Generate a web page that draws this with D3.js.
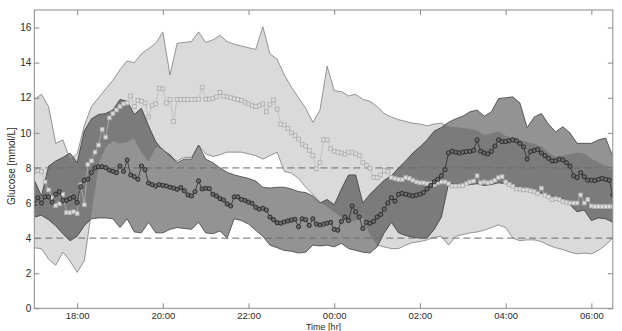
<!DOCTYPE html>
<html>
<head>
<meta charset="utf-8">
<script src="https://cdn.jsdelivr.net/npm/d3@7"></script>
<style>
  body { margin: 0; background: #fff; }
  svg { display: block; font-family: "Liberation Sans", Arial, sans-serif; }
</style>
</head>
<body>
<svg id="chart" width="622" height="331"></svg>
<script>
// Overnight glucose: two groups, each an envelope band plus a median trace.
// Bands sampled every 10 min, medians every 5 min, starting 17:00.

const lightUpper = [11.9,12.2,11.5,9.4,9.6,8.5,8.8,10.4,11.5,12.0,
  12.5,13.0,13.6,14.1,14.0,14.5,14.8,15.1,15.75,13.3,
  15.1,15.15,15.2,15.75,15.15,15.3,15.55,15.2,15.05,14.95,
  14.85,14.75,16.05,14.5,14.2,13.3,12.6,12.0,11.4,10.6,
  11.3,13.8,12.4,12.35,12.1,12.2,11.9,11.8,11.5,11.1,
  10.9,10.75,10.65,10.55,10.5,10.4,10.5,10.55,10.35,10.3,
  10.25,10.2,10.1,9.85,9.95,10.05,9.8,9.7,9.55,9.45,
  9.35,9.2,8.85,8.6,8.7,8.75,8.85,8.8,8.5,8.3,
  8.1,8.0];
const lightLower = [3.45,3.4,2.8,2.45,3.2,2.7,2.05,2.7,5.5,8.3,
  9.2,9.55,9.4,9.5,9.7,8.9,8.4,9.2,9.1,8.6,
  8.4,8.6,8.6,9.3,8.8,8.65,8.75,8.9,8.9,8.9,
  8.8,8.7,8.5,8.7,8.9,7.8,7.7,7.4,6.9,6.5,
  6.05,5.8,5.5,5.2,5.0,5.0,5.2,4.2,3.6,3.5,
  3.4,3.4,3.6,3.75,3.8,3.9,4.05,4.1,3.6,4.1,
  4.2,4.3,4.35,4.45,4.6,4.75,4.6,4.0,3.85,3.9,
  3.9,3.8,3.6,3.45,3.35,3.2,3.1,3.15,3.1,3.3,
  3.6,4.0];
const darkUpper = [7.3,6.4,8.1,8.4,8.6,8.85,8.3,10.1,10.8,11.05,
  11.1,11.3,11.9,11.8,11.05,11.4,10.4,9.5,9.0,8.75,
  8.3,8.5,8.5,9.3,8.5,8.3,8.0,7.75,7.6,7.5,
  7.4,7.25,6.9,6.85,6.9,6.9,6.8,6.65,6.6,6.4,
  6.0,6.2,5.9,6.8,7.6,7.6,6.0,6.5,6.9,7.3,
  7.55,8.0,8.4,8.85,9.2,9.6,10.1,10.3,10.6,10.8,
  10.95,11.2,11.3,10.95,11.2,11.95,12.0,12.05,11.7,10.3,
  10.9,11.1,10.5,10.05,10.35,10.0,9.4,9.4,9.4,9.6,
  9.7,8.65];
const darkLower = [5.2,5.3,5.05,4.7,4.25,3.85,4.1,4.7,5.1,5.15,
  5.15,5.1,4.6,5.1,4.35,4.3,4.9,4.3,4.3,4.5,
  4.6,4.55,4.5,4.9,4.3,4.25,4.4,4.0,5.1,5.0,
  4.8,4.45,4.1,3.6,3.45,3.3,3.25,3.15,3.2,3.6,
  3.55,3.6,3.5,3.7,3.4,3.3,3.2,3.15,3.5,4.3,
  4.9,4.3,4.15,4.05,4.0,4.0,4.5,5.2,7.1,7.1,
  7.05,7.05,7.1,7.0,7.05,7.15,7.1,7.0,6.9,6.8,
  6.7,6.55,6.45,6.35,6.25,5.9,5.5,5.6,5.0,5.15,
  5.1,4.9];

const lightMedian = [7.8,7.85,7.8,7.2,6.75,6.3,5.85,5.95,6.5,5.45,
  5.45,5.5,5.4,7.03,5.9,8.2,8.4,8.9,9.3,10.2,
  9.75,10.85,11.1,11.3,11.5,11.65,11.7,12.1,11.5,11.85,
  11.8,11.7,10.9,11.55,11.65,12.55,12.5,11.7,11.9,10.65,
  11.9,11.9,11.9,11.9,11.9,11.9,11.92,12.6,11.92,11.92,
  11.95,12.05,12.3,12.1,12.05,12.0,11.95,11.9,11.85,11.75,
  11.65,11.55,11.5,11.55,11.65,11.2,11.6,11.88,11.35,10.5,
  10.45,10.26,10.0,9.85,9.65,9.35,9.25,9.0,8.7,7.95,
  8.3,9.6,9.6,9.1,8.95,8.9,8.85,8.78,8.9,8.9,
  8.8,8.7,8.3,8.15,7.98,7.45,7.45,7.6,7.85,7.8,
  7.45,7.4,7.35,7.33,7.45,7.4,7.3,7.2,7.15,7.15,
  7.1,7.1,7.05,7.15,7.2,7.2,7.1,6.97,6.97,6.97,
  7.0,7.1,7.2,7.25,7.55,7.15,7.2,7.15,7.2,7.3,
  7.45,7.5,7.2,7.05,6.95,6.8,6.8,6.75,6.75,6.7,
  6.65,6.55,6.85,6.45,6.35,6.2,6.25,6.2,6.1,6.05,
  6.0,6.0,6.0,6.46,6.0,6.2,5.83,5.8,5.8,5.8,
  5.8,5.8,5.8];
const darkMedian = [5.95,6.3,6.0,6.35,6.35,6.05,6.5,6.65,6.15,6.15,
  6.25,6.35,6.03,6.93,7.3,7.35,7.73,8.0,8.07,8.07,
  8.02,7.88,7.8,7.73,8.11,7.8,8.45,7.6,7.5,7.35,
  8.11,7.9,7.13,7.05,6.97,7.05,7.0,6.97,6.9,6.85,
  6.78,6.88,6.7,6.46,6.4,6.65,7.26,6.8,6.84,6.82,
  6.5,6.4,6.25,6.17,5.95,5.83,6.35,6.35,6.2,6.15,
  6.05,5.98,5.75,5.65,5.7,5.6,5.2,5.05,4.88,4.85,
  4.92,4.98,5.03,5.07,4.65,5.1,5.05,4.72,5.1,4.8,
  4.75,4.8,4.85,4.9,4.5,4.45,4.95,5.2,5.0,5.83,
  5.5,5.2,4.55,4.9,4.85,4.95,5.2,5.35,5.65,6.0,
  6.3,6.1,6.5,6.55,6.5,6.45,6.4,6.45,6.5,6.6,
  6.8,7.0,7.2,7.35,7.55,7.9,8.85,8.95,8.9,8.85,
  8.9,8.93,8.95,9.0,9.6,8.95,8.85,8.8,8.95,9.25,
  9.6,9.5,9.5,9.55,9.6,9.55,9.4,9.2,8.5,8.93,
  9.0,9.05,8.85,8.7,8.55,8.4,8.4,8.5,8.45,8.3,
  8.1,7.55,7.45,7.73,7.5,7.3,7.3,7.28,7.35,7.4,
  7.35,7.3,6.46];

const yTicks = [0, 2, 4, 6, 8, 10, 12, 14, 16];
const refLines = [4, 8];

const W = 622, H = 331;
const M = { left: 34.3, right: 612.8, top: 10, bottom: 308.3 };

const t0 = new Date(2000, 0, 1, 17, 0);
const t1 = new Date(2000, 0, 2, 6, 30);
const stepTime = (mins) => (i) => new Date(+t0 + i * mins * 60000);
const at10 = stepTime(10), at5 = stepTime(5);

const x = d3.scaleTime().domain([t0, t1]).range([M.left, M.right]);
const y = d3.scaleLinear().domain([0, 17]).range([M.bottom, M.top]);

const bands = lightUpper.map((v, i) => ({
  t: at10(i), lu: v, ll: lightLower[i], du: darkUpper[i], dl: darkLower[i]
}));
const lightMed = lightMedian.map((v, i) => ({ t: at5(i), v: v }));
const darkMed = darkMedian.map((v, i) => ({ t: at5(i), v: v }));

const svg = d3.select("#chart");
const defs = svg.append("defs");

defs.append("clipPath").attr("id", "plotClip")
  .append("rect")
  .attr("x", M.left).attr("y", M.top)
  .attr("width", M.right - M.left).attr("height", M.bottom - M.top);

const lightArea = d3.area().x(d => x(d.t)).y0(d => y(d.ll)).y1(d => y(d.lu));
const darkArea = d3.area().x(d => x(d.t)).y0(d => y(d.dl)).y1(d => y(d.du));

// overlap of the two bands gets its own darker shade
defs.append("clipPath").attr("id", "lightClip")
  .append("path").attr("d", lightArea(bands));

const plot = svg.append("g").attr("clip-path", "url(#plotClip)");

plot.append("path").attr("d", lightArea(bands)).attr("fill", "#dadada");
plot.append("path").attr("d", darkArea(bands)).attr("fill", "#939393");
plot.append("path").attr("d", darkArea(bands))
  .attr("fill", "#7b7b7b")
  .attr("clip-path", "url(#lightClip)");

const edge = (key) => d3.line().x(d => x(d.t)).y(d => y(d[key]));
[["lu", "#7c7c7c"], ["ll", "#7c7c7c"], ["du", "#404040"], ["dl", "#404040"]]
  .forEach(([k, c]) => {
    plot.append("path").attr("d", edge(k)(bands))
      .attr("fill", "none").attr("stroke", c).attr("stroke-width", 0.8);
  });

// reference lines at 4 and 8 mmol/L
plot.selectAll("line.ref").data(refLines).enter().append("line")
  .attr("class", "ref")
  .attr("x1", M.left).attr("x2", M.right)
  .attr("y1", d => y(d)).attr("y2", d => y(d))
  .attr("stroke", "#6a6a6a").attr("stroke-width", 1)
  .attr("stroke-dasharray", "7,4");

const medLine = d3.line().x(d => x(d.t)).y(d => y(d.v));

// light group median: squares
plot.append("path").attr("d", medLine(lightMed))
  .attr("fill", "none").attr("stroke", "#b8b8b8").attr("stroke-width", 0.7);
const sq = 3.8;
plot.selectAll("rect.lm").data(lightMed).enter().append("rect")
  .attr("class", "lm")
  .attr("x", d => x(d.t) - sq / 2).attr("y", d => y(d.v) - sq / 2)
  .attr("width", sq).attr("height", sq)
  .attr("fill", "#dcdcdc").attr("stroke", "#ababab").attr("stroke-width", 0.8);

// dark group median: circles
plot.append("path").attr("d", medLine(darkMed))
  .attr("fill", "none").attr("stroke", "#222").attr("stroke-width", 0.7);
plot.selectAll("circle.dm").data(darkMed).enter().append("circle")
  .attr("class", "dm")
  .attr("cx", d => x(d.t)).attr("cy", d => y(d.v)).attr("r", 2.1)
  .attr("fill", "#6c6c6c").attr("stroke", "#1c1c1c").attr("stroke-width", 0.8);

// axes, MATLAB-style: boxed, ticks pointing inward on all sides
const xTicks = d3.timeHour.every(2);
const fmt = d3.timeFormat("%H:%M");

function styleAxis(g, labels, size) {
  g.select(".domain").remove();
  g.selectAll(".tick line").attr("stroke", "#8a8a8a");
  g.selectAll(".tick text")
    .attr("fill", labels ? "#2a2a2a" : "none")
    .style("font-size", size || "10px");
}

svg.append("g").attr("transform", `translate(0,${M.bottom})`)
  .call(d3.axisBottom(x).ticks(xTicks).tickFormat(fmt).tickSize(-5).tickPadding(4))
  .call(g => styleAxis(g, true, "9.5px"));
svg.append("g").attr("transform", `translate(0,${M.top})`)
  .call(d3.axisTop(x).ticks(xTicks).tickFormat("").tickSize(-5))
  .call(g => styleAxis(g, false));
svg.append("g").attr("transform", `translate(${M.left},0)`)
  .call(d3.axisLeft(y).tickValues(yTicks).tickSize(-5).tickPadding(3))
  .call(g => styleAxis(g, true, "10px"));
svg.append("g").attr("transform", `translate(${M.right},0)`)
  .call(d3.axisRight(y).tickValues(yTicks).tickFormat("").tickSize(-5))
  .call(g => styleAxis(g, false));

svg.append("rect")
  .attr("x", M.left).attr("y", M.top)
  .attr("width", M.right - M.left).attr("height", M.bottom - M.top)
  .attr("fill", "none").attr("stroke", "#8a8a8a").attr("stroke-width", 1);

svg.append("text")
  .attr("x", (M.left + M.right) / 2).attr("y", 330)
  .attr("text-anchor", "middle")
  .style("font-size", "9px").attr("fill", "#2a2a2a")
  .text("Time [hr]");

svg.append("text")
  .attr("transform", "translate(15,166) rotate(-90)")
  .attr("text-anchor", "middle")
  .style("font-size", "10px").attr("fill", "#2a2a2a")
  .text("Glucose [mmol/L]");
</script>
</body>
</html>
